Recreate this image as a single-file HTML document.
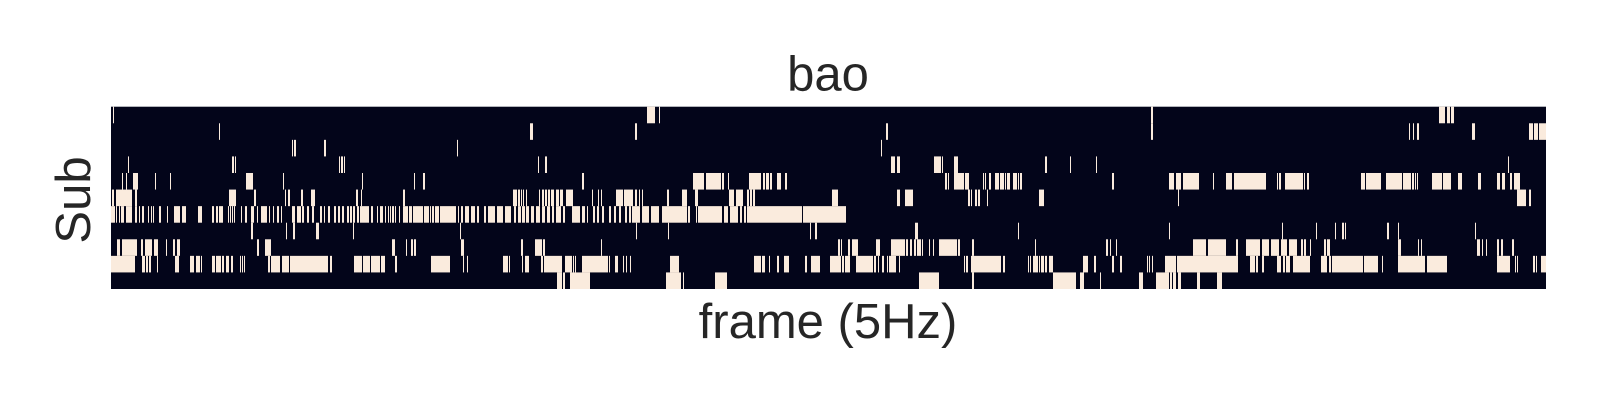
<!DOCTYPE html>
<html>
<head>
<meta charset="utf-8">
<style>
  html,body{margin:0;padding:0;background:#fff;}
  body{width:1600px;height:400px;overflow:hidden;}
  svg{display:block;}
  text{font-family:"Liberation Sans",Arial,sans-serif;fill:#262626;}
</style>
</head>
<body>
<svg id="chart" width="1600" height="400" viewBox="0 0 1600 400">
  <text x="828" y="90.5" font-size="49" text-anchor="middle">bao</text>
  <rect x="111" y="106.7" width="1435" height="182.3" fill="#03051a"></rect>
  <g id="cells"></g>
  <text x="828" y="338" font-size="49" text-anchor="middle">frame (5Hz)</text>
  <text x="0" y="0" font-size="49" text-anchor="middle" transform="translate(90,200) rotate(-90)">Sub</text>
</svg>
<script>
const nFrames = 1435;
const subjects = ["s0","s1","s2","s3","s4","s5","s6","s7","s8","s9","s10"];
const row0 = [[2,3],[536,544],[548,549],[1040,1042],[1328,1334],[1336,1339],[1340,1343]];
const row1 = [[108,109],[419,422],[524,526],[775,777],[1040,1042],[1298,1299],[1302,1303],[1306,1308],[1361,1364],[1418,1422],[1423,1427],[1428,1435]];
const row2 = [[181,182],[183,185],[213,215],[346,347],[770,771]];
const row3 = [[17,18],[121,123],[124,125],[228,229],[230,232],[233,234],[427,428],[434,436],[780,784],[786,789],[823,830],[831,832],[843,847],[934,936],[959,960],[985,986],[1397,1398]];
const row4 = [[11,12],[15,16],[22,27],[44,45],[59,60],[135,142],[172,173],[251,252],[303,304],[312,314],[471,473],[582,593],[595,610],[611,613],[617,618],[638,650],[652,654],[655,658],[659,661],[666,670],[674,676],[834,836],[837,838],[843,853],[854,858],[872,873],[874,875],[878,880],[884,888],[889,893],[894,895],[896,899],[902,906],[907,908],[909,911],[1001,1003],[1058,1063],[1065,1070],[1072,1088],[1102,1103],[1115,1121],[1123,1155],[1166,1167],[1168,1170],[1174,1192],[1193,1194],[1196,1198],[1250,1254],[1255,1270],[1275,1291],[1292,1300],[1301,1303],[1304,1305],[1306,1307],[1321,1331],[1332,1340],[1347,1351],[1367,1370],[1386,1389],[1391,1394],[1399,1401],[1403,1409]];
const row5 = [[1,3],[5,21],[24,26],[118,125],[143,145],[174,175],[177,179],[190,192],[200,204],[245,247],[250,251],[292,294],[402,406],[407,409],[410,411],[412,413],[415,416],[428,429],[431,433],[434,436],[437,439],[440,443],[445,448],[449,452],[455,462],[481,482],[487,488],[490,491],[505,512],[513,522],[524,526],[528,529],[531,532],[556,558],[571,576],[584,587],[618,623],[625,632],[636,638],[639,641],[642,644],[721,727],[786,789],[794,802],[857,859],[860,861],[864,866],[867,869],[876,877],[928,933],[1067,1068],[1406,1415],[1418,1420]];
const row6 = [[0,4],[5,6],[8,9],[10,13],[15,21],[24,26],[28,29],[31,33],[37,38],[40,41],[42,43],[48,50],[56,57],[63,69],[71,75],[87,91],[101,103],[105,107],[108,112],[117,118],[119,120],[121,122],[123,124],[130,131],[134,136],[140,143],[146,147],[150,156],[158,159],[162,163],[166,168],[170,171],[181,184],[186,190],[191,193],[196,198],[201,203],[209,211],[213,214],[217,219],[223,225],[227,229],[231,233],[236,238],[239,241],[242,244],[246,248],[249,258],[260,262],[266,267],[269,272],[274,275],[277,278],[279,280],[281,283],[284,285],[288,289],[292,297],[298,301],[302,312],[313,318],[319,320],[321,323],[324,328],[329,345],[347,348],[350,352],[354,358],[360,364],[366,368],[373,375],[377,384],[386,392],[394,400],[403,405],[407,410],[411,414],[415,418],[420,423],[425,429],[431,434],[436,439],[441,443],[445,450],[452,454],[461,469],[471,474],[476,477],[482,484],[486,488],[491,493],[498,500],[503,505],[508,510],[514,516],[518,520],[521,529],[531,538],[540,548],[551,576],[577,579],[585,586],[587,611],[613,617],[619,627],[629,631],[633,635],[636,691],[692,735]];
const row7 = [[140,142],[175,176],[182,184],[205,208],[242,243],[349,350],[525,526],[557,558],[699,700],[704,706],[804,807],[907,908],[1058,1059],[1171,1172],[1205,1206],[1224,1225],[1231,1233],[1234,1235],[1276,1278],[1287,1288],[1364,1365]];
const row8 = [[6,9],[11,26],[30,32],[34,41],[43,47],[55,56],[62,64],[66,69],[146,148],[154,160],[281,284],[295,296],[300,302],[303,305],[350,353],[410,412],[424,431],[432,434],[490,491],[727,729],[730,731],[737,739],[741,747],[765,769],[780,794],[795,797],[799,801],[803,805],[806,810],[811,812],[818,819],[822,823],[828,846],[847,849],[861,863],[924,925],[995,997],[999,1000],[1005,1006],[1082,1095],[1097,1115],[1125,1127],[1135,1149],[1151,1158],[1160,1168],[1170,1176],[1178,1186],[1190,1192],[1193,1195],[1199,1200],[1213,1215],[1216,1219],[1287,1290],[1307,1308],[1310,1311],[1366,1369],[1371,1372],[1375,1376],[1386,1388],[1390,1392],[1401,1403]];
const row9 = [[0,24],[31,34],[35,37],[38,40],[46,47],[64,68],[79,83],[85,89],[90,91],[101,104],[105,110],[111,113],[115,118],[120,122],[129,130],[131,132],[133,134],[157,159],[160,169],[171,178],[179,217],[219,221],[243,251],[252,259],[260,269],[270,274],[284,286],[320,339],[352,353],[356,357],[392,397],[398,399],[411,412],[414,418],[430,432],[433,451],[454,461],[462,463],[464,465],[471,497],[498,499],[504,507],[512,513],[515,516],[519,520],[559,568],[643,650],[651,654],[658,659],[666,668],[673,678],[694,696],[700,709],[719,730],[731,733],[734,739],[745,762],[763,765],[767,768],[771,773],[776,777],[778,785],[788,789],[853,854],[855,857],[860,890],[892,894],[917,918],[919,920],[922,927],[928,929],[930,933],[934,936],[938,942],[972,977],[983,985],[1001,1003],[1009,1011],[1036,1037],[1038,1039],[1041,1042],[1054,1065],[1066,1127],[1139,1144],[1145,1147],[1151,1153],[1166,1170],[1172,1174],[1175,1179],[1182,1199],[1210,1216],[1218,1220],[1221,1252],[1253,1267],[1271,1272],[1287,1314],[1316,1336],[1386,1399],[1404,1405],[1406,1407],[1422,1424],[1425,1426],[1430,1435]];
const row10 = [[446,451],[452,454],[459,479],[555,570],[572,573],[604,616],[808,828],[861,863],[942,965],[969,973],[989,990],[1028,1032],[1045,1058],[1059,1061],[1062,1065],[1067,1070],[1086,1089],[1106,1111]];
const rows = [row0,row1,row2,row3,row4,row5,row6,row7,row8,row9,row10];

const X0 = 111, X1 = 1546, Y0 = 106.7, Y1 = 289;
function xScale(f){ return X0 + (f / nFrames) * (X1 - X0); }
function yScale(i){ return Y0 + (i / subjects.length) * (Y1 - Y0); }

const g = document.getElementById('cells');
const NS = 'http://www.w3.org/2000/svg';
rows.forEach(function(row, i){
  row.forEach(function(seg, j){
    const r = document.createElementNS(NS, 'rect');
    
    
    const x = xScale(seg[0]);
    r.setAttribute('x', x);
    r.setAttribute('width', Math.max(1, xScale(seg[1]) - x));
    r.setAttribute('y', yScale(i));
    r.setAttribute('height', yScale(i + 1) - yScale(i));
    r.setAttribute('fill', '#faebdd');
    g.appendChild(r);
  });
});
</script>
</body>
</html>
